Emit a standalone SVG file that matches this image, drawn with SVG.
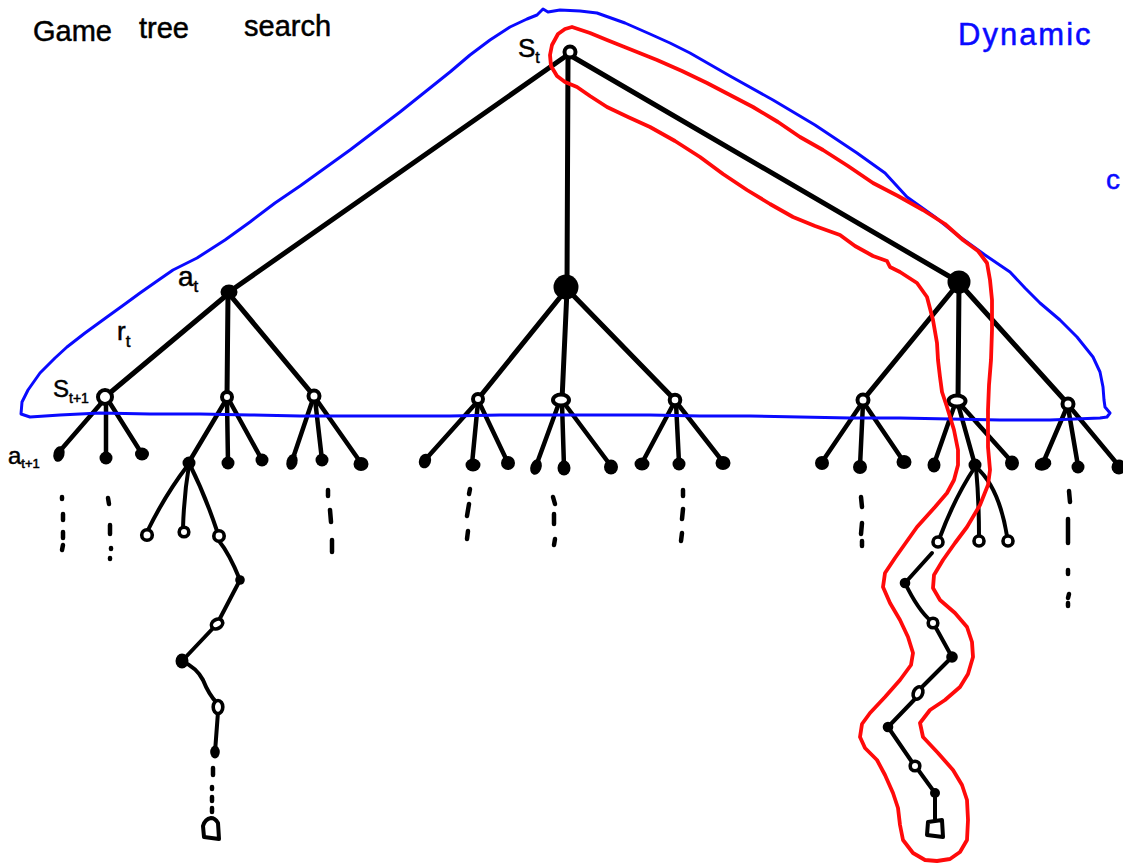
<svg xmlns="http://www.w3.org/2000/svg" width="1123" height="867" viewBox="0 0 1123 867">
  <style>
    .edge { stroke: #000; stroke-width: 5; stroke-linecap: round; fill: none; }
    .leaf-edge { stroke: #000; stroke-width: 4.5; stroke-linecap: round; fill: none; }
    .thin { stroke: #000; stroke-width: 4; stroke-linecap: round; stroke-linejoin: round; fill: none; }
    .state { fill: #fff; stroke: #000; stroke-width: 4; }
    .state-sm { fill: #fff; stroke: #000; stroke-width: 3.6; }
    .act { fill: #000; }
    .dash { stroke: #000; stroke-width: 4.5; stroke-linecap: round; }
    .blue { fill: none; stroke: #0a0aff; stroke-width: 3; stroke-linejoin: round; stroke-linecap: round; }
    .red { fill: none; stroke: #ff0a0a; stroke-width: 3.8; stroke-linejoin: round; stroke-linecap: round; }
    .hand { font-family: "Liberation Sans", "DejaVu Sans", sans-serif; fill: #000; stroke: #000; stroke-width: 0.5; }
    .hand-blue { font-family: "Liberation Sans", "DejaVu Sans", sans-serif; fill: #0a0aff; stroke: #0a0aff; stroke-width: 0.5; }
  </style>

  <rect width="1123" height="867" fill="#fff"/>

  <!-- headings -->
  <g id="title">
    <text class="hand" x="33" y="41" font-size="29">Game</text>
    <text class="hand" x="139" y="38" font-size="29">tree</text>
    <text class="hand" x="244" y="36" font-size="29">search</text>
  </g>
  <g id="dynamic-label">
    <text class="hand-blue" x="958" y="45" font-size="31" letter-spacing="2">Dynamic</text>
    <text class="hand-blue" x="1106" y="189" font-size="28">c</text>
  </g>

  <!-- tree connectors -->
  <g id="connectors">
    <!-- root to actions -->
    <line class="edge" x1="566" y1="56" x2="229" y2="292"/>
    <line class="edge" x1="568" y1="58" x2="567" y2="287"/>
    <line class="edge" x1="573" y1="57" x2="959" y2="282"/>
    <!-- actions to next states -->
    <line class="edge" x1="228" y1="294" x2="105" y2="397"/>
    <line class="edge" x1="228" y1="294" x2="227" y2="397"/>
    <line class="edge" x1="230" y1="295" x2="314" y2="396"/>
    <line class="edge" x1="566" y1="290" x2="478" y2="399"/>
    <line class="edge" x1="567" y1="290" x2="562" y2="400"/>
    <line class="edge" x1="568" y1="290" x2="675" y2="400"/>
    <line class="edge" x1="958" y1="284" x2="863" y2="400"/>
    <line class="edge" x1="959" y1="284" x2="958" y2="401"/>
    <line class="edge" x1="960" y1="284" x2="1068" y2="404"/>
    <!-- states to next actions -->
    <line class="leaf-edge" x1="104" y1="400" x2="59" y2="452"/>
    <line class="leaf-edge" x1="106" y1="400" x2="106" y2="458"/>
    <line class="leaf-edge" x1="108" y1="400" x2="142" y2="454"/>
    <line class="leaf-edge" x1="226" y1="400" x2="189" y2="462"/>
    <line class="leaf-edge" x1="227" y1="400" x2="228" y2="463"/>
    <line class="leaf-edge" x1="229" y1="400" x2="262" y2="460"/>
    <line class="leaf-edge" x1="313" y1="399" x2="292" y2="461"/>
    <line class="leaf-edge" x1="315" y1="399" x2="322" y2="460"/>
    <line class="leaf-edge" x1="316" y1="399" x2="361" y2="463"/>
    <line class="leaf-edge" x1="477" y1="402" x2="425" y2="460"/>
    <line class="leaf-edge" x1="478" y1="402" x2="472" y2="464"/>
    <line class="leaf-edge" x1="479" y1="402" x2="508" y2="463"/>
    <line class="leaf-edge" x1="559" y1="403" x2="536" y2="466"/>
    <line class="leaf-edge" x1="562" y1="403" x2="564" y2="467"/>
    <line class="leaf-edge" x1="564" y1="403" x2="611" y2="466"/>
    <line class="leaf-edge" x1="674" y1="403" x2="642" y2="463"/>
    <line class="leaf-edge" x1="676" y1="403" x2="679" y2="463"/>
    <line class="leaf-edge" x1="677" y1="403" x2="723" y2="462"/>
    <line class="leaf-edge" x1="862" y1="403" x2="822" y2="462"/>
    <line class="leaf-edge" x1="863" y1="403" x2="860" y2="466"/>
    <line class="leaf-edge" x1="864" y1="403" x2="904" y2="462"/>
    <line class="leaf-edge" x1="955" y1="404" x2="934" y2="464"/>
    <line class="leaf-edge" x1="958" y1="404" x2="975" y2="465"/>
    <line class="leaf-edge" x1="960" y1="404" x2="1012" y2="462"/>
    <line class="leaf-edge" x1="1067" y1="407" x2="1043" y2="463"/>
    <line class="leaf-edge" x1="1068" y1="407" x2="1078" y2="466"/>
    <line class="leaf-edge" x1="1070" y1="407" x2="1119" y2="466"/>

    <!-- left rollout -->
    <path class="thin" d="M188,465 Q165,495 147,532"/>
    <path class="thin" d="M189,465 Q184,495 183,528"/>
    <path class="thin" d="M190,465 Q205,495 217,531"/>
    <path class="thin" d="M219,541 Q229,553 240,580 L217,624 L182,661 Q197,668 203,680 Q209,695 217,703"/>
    <path class="thin" d="M218,712 L215,752"/>
    <line class="dash" x1="213" y1="768" x2="213" y2="775"/>
    <line class="dash" x1="212" y1="787" x2="212" y2="789"/>
    <line class="dash" x1="212" y1="797" x2="212" y2="801"/>
    <line class="dash" x1="212" y1="808" x2="212" y2="812"/>

    <!-- right rollout -->
    <path class="thin" d="M975,467 Q955,497 940,537"/>
    <path class="thin" d="M976,467 Q979,500 979,536"/>
    <path class="thin" d="M976,467 Q999,487 1007,536"/>
    <path class="thin" d="M932,553 L905,583 Q918,610 931,621"/>
    <path class="thin" d="M936,628 L952,657 L922,687"/>
    <path class="thin" d="M914,700 L888,727 L912,762"/>
    <path class="thin" d="M919,771 L935,793 L935,819"/>

    <!-- continuation marks under unexpanded actions -->
    <line class="dash" x1="62" y1="497" x2="62" y2="499"/>
    <line class="dash" x1="63" y1="514" x2="63" y2="520"/>
    <line class="dash" x1="63" y1="532" x2="63" y2="538"/>
    <line class="dash" x1="63" y1="545" x2="62" y2="550"/>
    <line class="dash" x1="108" y1="498" x2="109" y2="504"/>
    <line class="dash" x1="110" y1="525" x2="110" y2="534"/>
    <line class="dash" x1="111" y1="548" x2="111" y2="549"/>
    <line class="dash" x1="110" y1="558" x2="110" y2="559"/>
    <line class="dash" x1="328" y1="490" x2="328" y2="496"/>
    <line class="dash" x1="330" y1="510" x2="331" y2="522"/>
    <line class="dash" x1="332" y1="540" x2="332" y2="552"/>
    <line class="dash" x1="470" y1="489" x2="469" y2="494"/>
    <line class="dash" x1="469" y1="504" x2="467" y2="516"/>
    <line class="dash" x1="468" y1="531" x2="467" y2="539"/>
    <line class="dash" x1="553" y1="497" x2="555" y2="504"/>
    <line class="dash" x1="554" y1="514" x2="554" y2="524"/>
    <line class="dash" x1="555" y1="539" x2="554" y2="545"/>
    <line class="dash" x1="683" y1="490" x2="683" y2="496"/>
    <line class="dash" x1="683" y1="509" x2="682" y2="519"/>
    <line class="dash" x1="682" y1="533" x2="681" y2="541"/>
    <line class="dash" x1="861" y1="497" x2="862" y2="507"/>
    <line class="dash" x1="862" y1="523" x2="861" y2="534"/>
    <line class="dash" x1="862" y1="541" x2="862" y2="546"/>
    <line class="dash" x1="1069" y1="491" x2="1070" y2="502"/>
    <line class="dash" x1="1068" y1="519" x2="1068" y2="543"/>
    <line class="dash" x1="1068" y1="570" x2="1068" y2="574"/>
    <line class="dash" x1="1069" y1="594" x2="1068" y2="598"/>
    <line class="dash" x1="1068" y1="603" x2="1068" y2="606"/>
  </g>

  <!-- root state -->
  <g id="s-t">
    <circle class="state" cx="570" cy="52" r="5.5" stroke-width="3.6"/>
    <text class="hand" x="518" y="57" font-size="26">S<tspan font-size="16" dy="6">t</tspan></text>
  </g>

  <!-- first actions -->
  <g id="a-t">
    <ellipse class="act" cx="229" cy="292" rx="8.5" ry="7.5"/>
    <text class="hand" x="178" y="286" font-size="28">a<tspan font-size="17" dy="6">t</tspan></text>
  </g>
  <g id="a-mid"><circle class="act" cx="566" cy="287" r="12.5"/></g>
  <g id="a-right"><circle class="act" cx="959" cy="282" r="11.5"/></g>

  <!-- reward label -->
  <g id="r-t">
    <text class="hand" x="117" y="340" font-size="26">r<tspan font-size="17" dy="7">t</tspan></text>
  </g>

  <!-- next states -->
  <g id="s-t1">
    <circle class="state" cx="105" cy="397" r="7" stroke-width="4.6"/>
    <text class="hand" x="53" y="397" font-size="24">S<tspan font-size="14" dy="6">t+1</tspan></text>
  </g>
  <g id="s-l2"><circle class="state" cx="227" cy="397" r="5" stroke-width="3.8"/></g>
  <g id="s-l3"><circle class="state" cx="314" cy="396" r="5.5" stroke-width="4"/></g>
  <g id="s-m1"><circle class="state" cx="478" cy="399" r="5" stroke-width="3.8"/></g>
  <g id="s-m2"><ellipse class="state" cx="561" cy="400" rx="8" ry="5.5" stroke-width="4"/></g>
  <g id="s-m3"><circle class="state" cx="675" cy="400" r="5.3" stroke-width="4"/></g>
  <g id="s-r1"><circle class="state" cx="863" cy="400" r="5.5" stroke-width="4"/></g>
  <g id="s-r2"><ellipse class="state" cx="957" cy="401" rx="8.5" ry="5.5" stroke-width="4"/></g>
  <g id="s-r3"><circle class="state" cx="1068" cy="404" r="5.5" stroke-width="4"/></g>

  <!-- next actions -->
  <g id="a-t1">
    <ellipse class="act" cx="59" cy="454" rx="5.5" ry="8" transform="rotate(15 59 454)"/>
    <text class="hand" x="8" y="464" font-size="24">a<tspan font-size="13" dy="4">t+1</tspan></text>
  </g>
  <g id="a-l1b"><circle class="act" cx="106" cy="458" r="6.5"/></g>
  <g id="a-l1c"><ellipse class="act" cx="142" cy="454" rx="7" ry="6.5"/></g>
  <g id="a-l2a"><circle class="act" cx="189" cy="463" r="6.5"/></g>
  <g id="a-l2b"><circle class="act" cx="228" cy="463" r="6.5"/></g>
  <g id="a-l2c"><circle class="act" cx="262" cy="460" r="6.5"/></g>
  <g id="a-l3a"><ellipse class="act" cx="292" cy="462" rx="5.5" ry="8" transform="rotate(15 292 462)"/></g>
  <g id="a-l3b"><circle class="act" cx="322" cy="460" r="6.5"/></g>
  <g id="a-l3c"><ellipse class="act" cx="361" cy="464" rx="7.5" ry="7"/></g>
  <g id="a-m1a"><ellipse class="act" cx="425" cy="461" rx="6" ry="7.5" transform="rotate(20 425 461)"/></g>
  <g id="a-m1b"><ellipse class="act" cx="473" cy="465" rx="7.5" ry="6.5"/></g>
  <g id="a-m1c"><circle class="act" cx="508" cy="463" r="7"/></g>
  <g id="a-m2a"><ellipse class="act" cx="536" cy="467" rx="5.5" ry="8" transform="rotate(20 536 467)"/></g>
  <g id="a-m2b"><ellipse class="act" cx="564" cy="468" rx="6.5" ry="7.5"/></g>
  <g id="a-m2c"><ellipse class="act" cx="611" cy="467" rx="7" ry="7.5"/></g>
  <g id="a-m3a"><ellipse class="act" cx="642" cy="464" rx="7.5" ry="6.5"/></g>
  <g id="a-m3b"><circle class="act" cx="679" cy="464" r="6.5"/></g>
  <g id="a-m3c"><ellipse class="act" cx="723" cy="463" rx="7.5" ry="7"/></g>
  <g id="a-r1a"><circle class="act" cx="822" cy="463" r="7"/></g>
  <g id="a-r1b"><circle class="act" cx="860" cy="467" r="7"/></g>
  <g id="a-r1c"><ellipse class="act" cx="904" cy="462" rx="7.5" ry="7"/></g>
  <g id="a-r2a"><ellipse class="act" cx="934" cy="465" rx="6.5" ry="7.5"/></g>
  <g id="a-r2b"><circle class="act" cx="975" cy="465" r="6.5"/></g>
  <g id="a-r2c"><ellipse class="act" cx="1012" cy="463" rx="7" ry="7.5"/></g>
  <g id="a-r3a"><ellipse class="act" cx="1043" cy="464" rx="8.5" ry="6.5" transform="rotate(-20 1043 464)"/></g>
  <g id="a-r3b"><circle class="act" cx="1078" cy="467" r="6.5"/></g>
  <g id="a-r3c"><circle class="act" cx="1119" cy="467" r="7.5"/></g>

  <!-- left rollout nodes -->
  <g id="lr-s1"><circle class="state-sm" cx="147" cy="535" r="5.3"/></g>
  <g id="lr-s2"><circle class="state-sm" cx="184" cy="532" r="4.8"/></g>
  <g id="lr-s3"><circle class="state-sm" cx="219" cy="536" r="5.2"/></g>
  <g id="lr-a1"><circle class="act" cx="240" cy="580" r="4.8"/></g>
  <g id="lr-s4"><ellipse class="state-sm" cx="217" cy="624" rx="6" ry="4.5" transform="rotate(-30 217 624)"/></g>
  <g id="lr-a2"><ellipse class="act" cx="182" cy="661" rx="6.5" ry="7.5"/></g>
  <g id="lr-s5"><ellipse class="state-sm" cx="218" cy="707" rx="4.8" ry="6.5"/></g>
  <g id="lr-a3"><ellipse class="act" cx="215" cy="752" rx="4.8" ry="6.5"/></g>
  <g id="lr-end"><path class="thin" d="M204,837 L203,826 Q205,819 211,818 Q215,818 218,823 L219,839 Z"/></g>

  <!-- right rollout nodes -->
  <g id="rr-s1"><circle class="state-sm" cx="938" cy="542" r="5"/></g>
  <g id="rr-s2"><circle class="state-sm" cx="979" cy="541" r="5"/></g>
  <g id="rr-s3"><circle class="state-sm" cx="1008" cy="541" r="5"/></g>
  <g id="rr-a1"><circle class="act" cx="905" cy="583" r="5.3"/></g>
  <g id="rr-s4"><circle class="state-sm" cx="933" cy="623" r="4.8"/></g>
  <g id="rr-a2"><circle class="act" cx="952" cy="657" r="5.8"/></g>
  <g id="rr-s5"><ellipse class="state-sm" cx="918" cy="693" rx="4.5" ry="6.5" transform="rotate(25 918 693)"/></g>
  <g id="rr-a3"><circle class="act" cx="888" cy="727" r="5.3"/></g>
  <g id="rr-s6"><circle class="state-sm" cx="915" cy="766" r="4.8"/></g>
  <g id="rr-a4"><circle class="act" cx="935" cy="793" r="5"/></g>
  <g id="rr-end"><path class="thin" d="M928,822 L942,820 L943,837 L927,835 Z"/></g>

  <!-- blue outline: one-step lookahead region -->
  <g id="blue-region">
    <path class="blue" d="M1100,418 L1050,420 L1000,420 L950,419 L900,418 L850,418 L800,417 L750,416 L700,416 L650,415 L600,415 L550,415 L500,415 L450,416 L400,416 L350,416 L300,416 L250,415 L200,414 L150,414 L100,413 L60,415 L30,417 L21,414 L22,402 L28,390 L40,373 L55,358 L67,347 L85,333 L107,317 L125,304 L140,293 L160,279 L173,270 L197,258 L225,240 L250,222 L275,203 L300,186 L325,168 L350,150 L375,131 L400,112 L425,92 L450,72 L470,55 L490,40 L510,27 L527,19 L537,15 L543,9 L548,12 L560,10 L580,11 L597,13 L625,23 L650,34 L670,43 L690,53 L730,76 L773,100 L815,125 L857,153 L885,173 L907,197 L935,217 L960,237 L985,255 L1010,272 L1025,288 L1040,303 L1060,320 L1077,337 L1093,357 L1100,372 L1103,387 L1104,400 L1105,407 L1110,413 L1107,417 Z"/>
  </g>

  <!-- red outline: sampled trajectory -->
  <g id="red-path">
    <path class="red" d="M572,27 L590,33 L607,40 L632,50 L657,60 L682,71 L707,83 L730,95 L753,107 L778,122 L800,137 L823,150 L848,166 L873,183 L898,196 L923,210 L945,224 L963,240 L978,251 L987,263 L990,280 L992,300 L992,330 L991,360 L989,385 L988,410 L988,447 L990,470 L988,485 L980,505 L967,527 L955,543 L943,560 L934,575 L933,588 L940,600 L955,613 L967,627 L972,642 L973,657 L968,674 L960,687 L945,700 L930,710 L920,723 L923,737 L938,753 L953,770 L962,785 L967,800 L968,820 L967,840 L960,852 L950,859 L937,861 L925,860 L913,853 L903,840 L900,825 L898,808 L893,793 L885,775 L877,760 L865,748 L860,737 L862,724 L870,713 L885,697 L900,680 L911,665 L913,653 L908,637 L900,620 L890,603 L883,587 L885,573 L895,558 L917,527 L935,507 L947,493 L954,480 L958,465 L958,450 L954,430 L947,407 L942,392 L940,377 L938,360 L937,343 L933,320 L927,297 L917,283 L900,272 L890,267 L887,261 L873,256 L855,246 L840,235 L815,226 L793,217 L770,204 L747,190 L723,174 L700,157 L675,141 L650,127 L628,117 L607,107 L590,96 L577,87 L565,82 L557,76 L551,66 L550,55 L552,45 L558,34 L565,29 Z"/>
  </g>
</svg>
